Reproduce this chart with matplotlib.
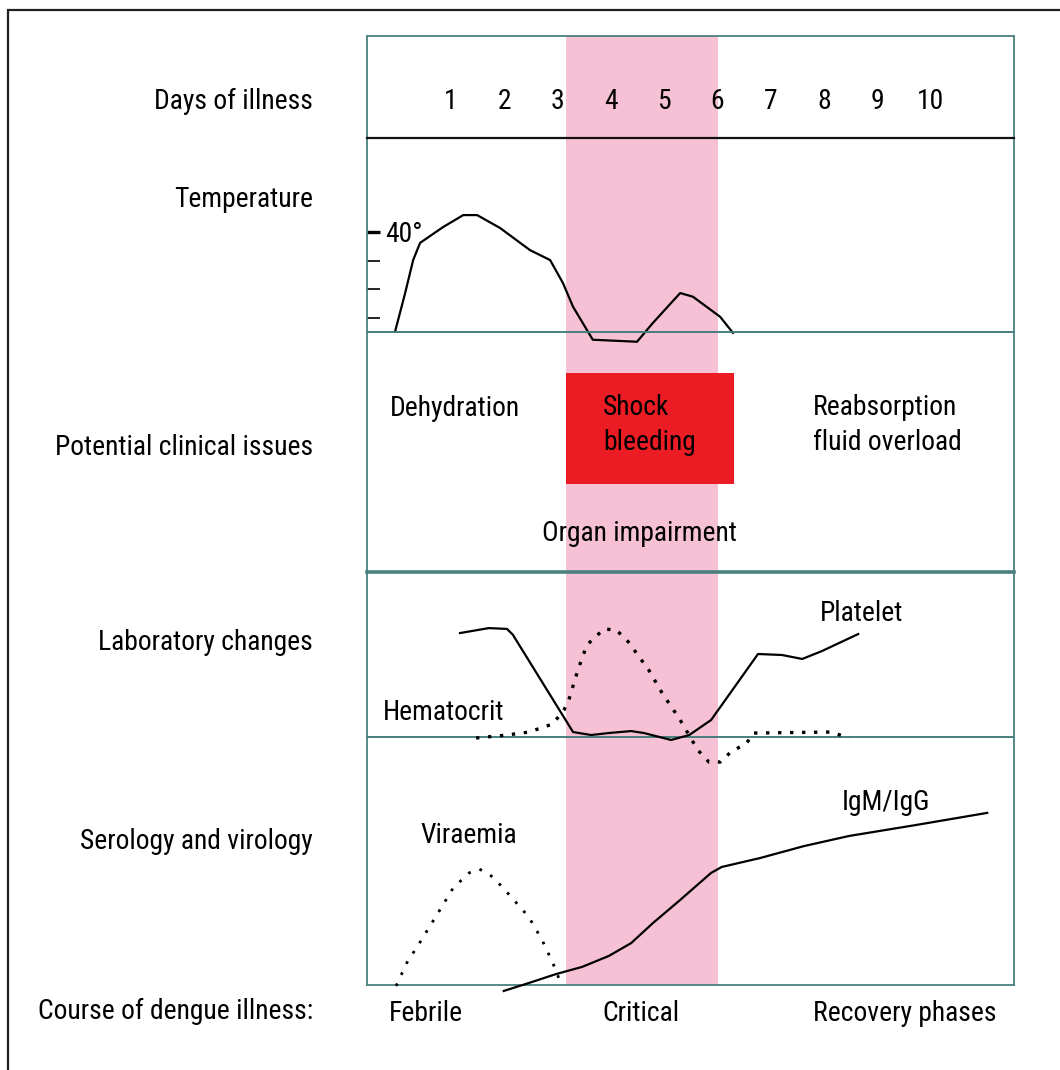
import matplotlib.pyplot as plt
from matplotlib import font_manager
from matplotlib.patches import Rectangle

W, H = 1060, 1070

DAYS = [1, 2, 3, 4, 5, 6, 7, 8, 9, 10]
CRITICAL_START = 3.16
CRITICAL_END = 6.01

# temperature in degrees
TEMP_DAY = [-0.05, 0.14, 0.29, 0.42, 0.85, 1.23, 1.49, 1.92, 2.48, 2.86,
            3.10, 3.29, 3.66, 4.49, 4.79, 5.30, 5.54, 6.05, 6.29]
TEMP_VALUE = [36.52, 37.87, 39.02, 39.62, 40.17, 40.59, 40.59, 40.14, 39.37, 39.02,
              38.22, 37.39, 36.24, 36.17, 36.83, 37.87, 37.74, 37.04, 36.48]

# laboratory changes, relative scale 0-100
PLATELET_DAY = [1.17, 1.71, 2.05, 2.16, 3.29, 3.63, 3.96, 4.38, 4.62, 5.13,
                5.47, 5.88, 6.76, 7.21, 7.59, 7.96, 8.64]
PLATELET_VALUE = [63, 66, 65.5, 62, 3, 1.2, 2.4, 3.6, 2.4, -1.8,
                  1.2, 10.3, 50.3, 49.7, 47.3, 52.1, 62.4]

HEMATOCRIT_DAY = [1.47, 2.05, 2.46, 2.91, 3.12, 3.21, 3.38, 3.55, 3.87, 4.10,
                  4.30, 4.71, 4.96, 5.30, 5.63, 5.84, 6.05, 6.25, 6.55, 6.67,
                  8.13, 8.47]
HEMATOCRIT_VALUE = [-0.6, 1.2, 3.0, 7.9, 16.4, 22.4, 40.6, 55.8, 65.5, 64.8,
                    58.8, 40.6, 26.7, 10.3, -7.9, -15.2, -15.2, -9.1, -3.6, 2.4,
                    3.0, -0.6]

# serology and virology, relative scale 0-100
IGM_DAY = [1.99, 2.46, 2.97, 3.46, 3.96, 4.38, 4.79, 5.30, 5.88, 6.08,
           6.80, 7.62, 8.47, 9.72, 11.06]
IGM_VALUE = [-2.4, 0.8, 4.4, 7.3, 11.7, 16.9, 25.0, 34.3, 45.2, 47.6,
             51.2, 56.0, 60.1, 64.5, 69.4]

VIRAEMIA_DAY = [-0.03, 0.17, 0.42, 0.79, 1.04, 1.34, 1.53, 1.79, 2.13, 2.46,
                2.71, 2.91, 3.08]
VIRAEMIA_VALUE = [-0.4, 8.9, 17.3, 30.2, 39.1, 45.2, 46.8, 43.5, 35.5, 27.4,
                  18.1, 8.9, -0.4]

ROW_LABELS = ["Days of illness", "Temperature", "Potential clinical issues",
              "Laboratory changes", "Serology and virology"]
PHASES = ["Febrile", "Critical", "Recovery phases"]

TEAL = "#4a8080"
PINK = "#f6c1d5"
RED = "#ec1c24"
XLIM = (-0.576, 11.563)

# pick the narrowest sans family that is installed
installed = {f.name for f in font_manager.fontManager.ttflist}
FONT = "DejaVu Sans"
for name in ["Liberation Sans Narrow", "DejaVu Sans Condensed", "Roboto Condensed",
             "Open Sans Condensed", "Noto Sans Condensed"]:
    if name in installed:
        FONT = name
        break
plt.rcParams["font.family"] = [FONT, "DejaVu Sans"]
plt.rcParams["font.stretch"] = "condensed"


def px_axes(fig, left, top, right, bottom):
    return fig.add_axes([left / W, 1 - bottom / H, (right - left) / W, (bottom - top) / H])


def style_row(ax):
    ax.set_xlim(*XLIM)
    ax.set_xticks([])
    ax.set_yticks([])
    ax.patch.set_alpha(0)
    for s in ax.spines.values():
        s.set_color(TEAL)
        s.set_linewidth(1.3)


fig = plt.figure(figsize=(W / 100, H / 100), dpi=100)

# size the text so the row labels span about the same width as in the original
probe = fig.text(0, 0, "Potential clinical issues", fontsize=21)
probe_w = probe.get_window_extent(fig.canvas.get_renderer()).width
probe.remove()
plt.rcParams["font.size"] = min(22, 21 * 258 / probe_w)

# outer frame (only top and left edges fall inside the picture)
fig.add_artist(Rectangle((8 / W, -0.2), 1.2, 1.2 - 10 / H, fill=False,
                         edgecolor="#222222", lw=1.6, transform=fig.transFigure))

# critical phase band behind every row
ax_bg = px_axes(fig, 367, 36, 1014, 985)
ax_bg.set_xlim(*XLIM)
ax_bg.axvspan(CRITICAL_START, CRITICAL_END, color=PINK, lw=0)
ax_bg.axis("off")
ax_bg.set_zorder(0)

ax_days = px_axes(fig, 367, 36, 1014, 138)
ax_temp = px_axes(fig, 367, 138, 1014, 332)
ax_clin = px_axes(fig, 367, 332, 1014, 572)
ax_lab = px_axes(fig, 367, 572, 1014, 737)
ax_sero = px_axes(fig, 367, 737, 1014, 985)
rows = [ax_days, ax_temp, ax_clin, ax_lab, ax_sero]

for i, ax in enumerate(rows):
    style_row(ax)
    ax.set_zorder(10 - i)

label_y = [0.39, 0.70, 0.53, 0.59, 0.59]
for ax, label, y in zip(rows, ROW_LABELS, label_y):
    ax.text(-0.0835, y, label, transform=ax.transAxes, ha="right",
            va="center_baseline")

# days of illness
ax_days.set_ylim(0, 1)
ax_days.spines["bottom"].set_color("#111111")
ax_days.spines["bottom"].set_linewidth(1.6)
for d in DAYS:
    ax_days.text(d, 0.39, str(d), ha="center", va="center_baseline")

# temperature
ax_temp.set_ylim(36.51, 43.28)
ax_temp.plot(TEMP_DAY, TEMP_VALUE, color="black", lw=1.6, clip_on=False)
ax_temp.set_yticks([40])
ax_temp.set_yticks([37, 38, 39], minor=True)
ax_temp.set_yticklabels([])
ax_temp.tick_params(axis="y", which="both", direction="in", length=9, color="black")
ax_temp.tick_params(axis="y", which="major", width=2.4)
ax_temp.tick_params(axis="y", which="minor", width=1.2)
ax_temp.text(-0.24, 40, "40°", ha="left", va="center_baseline")

# potential clinical issues
ax_clin.set_ylim(0, 1)
ax_clin.add_patch(Rectangle((CRITICAL_START, 0.367), 6.31 - CRITICAL_START, 0.462,
                            facecolor=RED, edgecolor="none", zorder=1))
ax_clin.text(-0.144, 0.692, "Dehydration", va="center_baseline")
ax_clin.text(3.85, 0.696, "Shock", va="center_baseline", zorder=3)
ax_clin.text(3.85, 0.552, "bleeding", va="center_baseline", zorder=3)
ax_clin.text(7.79, 0.696, "Reabsorption", va="center_baseline")
ax_clin.text(7.79, 0.554, "fluid overload", va="center_baseline")
ax_clin.text(4.53, 0.171, "Organ impairment", ha="center", va="center_baseline")

# laboratory changes
ax_lab.set_ylim(0, 100)
ax_lab.spines["top"].set_linewidth(2.6)
ax_lab.plot(PLATELET_DAY, PLATELET_VALUE, color="black", lw=1.6, clip_on=False, zorder=3)
ax_lab.plot(HEMATOCRIT_DAY, HEMATOCRIT_VALUE, color="black", lw=2.4,
            linestyle=(0, (1, 2.6)), clip_on=False, zorder=3)
ax_lab.text(-0.276, 16.4, "Hematocrit", va="center_baseline")
ax_lab.text(7.92, 76.4, "Platelet", va="center_baseline")

# serology and virology
ax_sero.set_ylim(0, 100)
ax_sero.plot(IGM_DAY, IGM_VALUE, color="black", lw=1.6, clip_on=False, zorder=3)
ax_sero.plot(VIRAEMIA_DAY, VIRAEMIA_VALUE, color="black", lw=2.0,
             linestyle=(0, (1, 3.4)), clip_on=False, zorder=3)
ax_sero.text(0.42, 61.3, "Viraemia", va="center_baseline")
ax_sero.text(8.34, 75.0, "IgM/IgG", va="center_baseline")

# course of dengue illness
ax_sero.text(-0.0835, -0.093, "Course of dengue illness:", transform=ax_sero.transAxes,
             ha="right", va="center_baseline")
phase_x = [-0.16, 4.56, 7.79]
phase_ha = ["left", "center", "left"]
for name, x, ha in zip(PHASES, phase_x, phase_ha):
    ax_sero.text(x, -10.1, name, ha=ha, va="center_baseline")

fig.savefig("out.png", dpi=100, facecolor="white")
